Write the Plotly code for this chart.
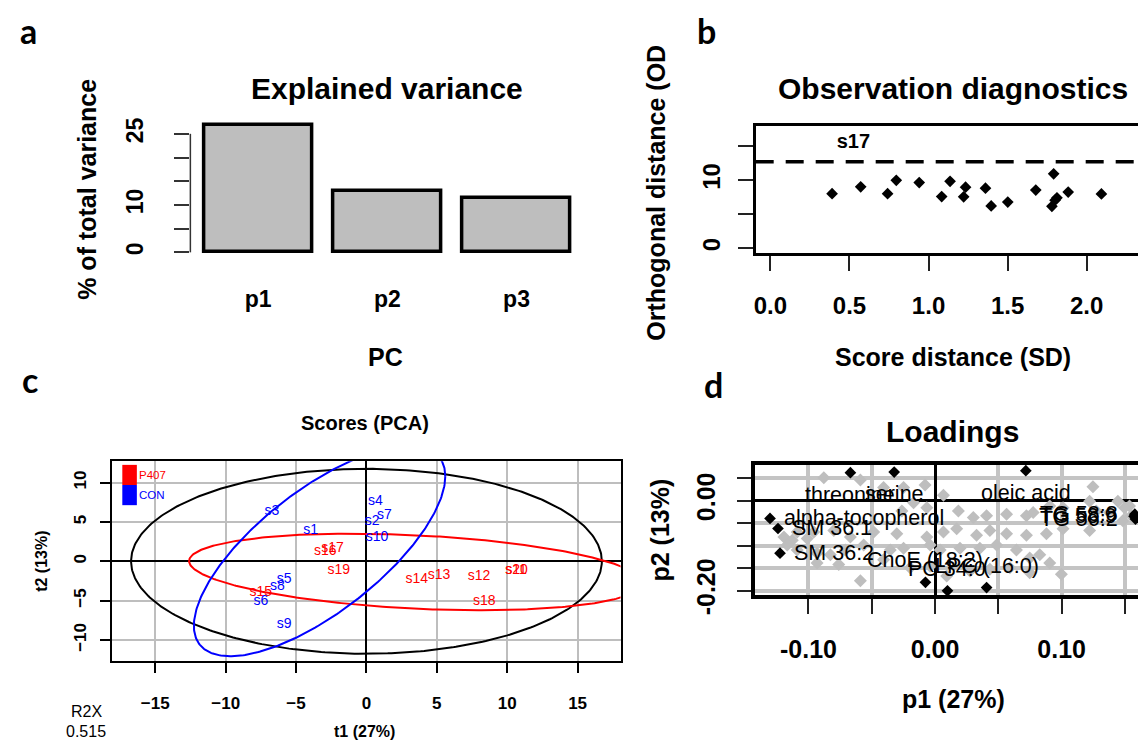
import numpy as np
import plotly.graph_objects as go

W, H = 1146, 755
FONT = "Liberation Sans, Arial, sans-serif"

# ---------------- data ----------------
# (a) explained variance
pc_labels = ["p1", "p2", "p3"]
pc_variance = [26.9, 13.0, 11.4]
bar_positions = [0.7, 1.9, 3.1]
variance_ticks = [0, 5, 10, 15, 20, 25]
variance_ticktext = ["0", "", "10", "", "", "25"]

# (b) observation diagnostics
score_distance = [0.39, 0.571, 0.741, 0.796, 0.941, 1.083, 1.136, 1.234, 1.222, 1.36,
                  1.396, 1.501, 1.678, 1.791, 1.812, 1.80, 1.78, 1.883, 2.093]
orthogonal_distance = [8.0, 9.0, 8.0, 9.96, 9.63, 7.57, 9.81, 8.96, 7.53, 8.81,
                       6.2, 6.77, 8.53, 10.91, 7.39, 7.05, 6.14, 8.24, 7.96]
od_cutoff = 12.7
outlier_names = ["s17"]
outlier_sd = [0.525]
outlier_od = [15.5]
sd_ticks = [0.0, 0.5, 1.0, 1.5, 2.0]
sd_ticktext = ["0.0", "0.5", "1.0", "1.5", "2.0"]
od_ticks = [0, 5, 10, 15]
od_ticktext = ["0", "", "10", ""]

# (c) scores
con_names = ["s1", "s2", "s3", "s4", "s5", "s6", "s7", "s8", "s9", "s10"]
con_t1 = [-3.96, 0.40, -6.72, 0.64, -5.85, -7.5, 1.27, -6.33, -5.85, 0.75]
con_t2 = [3.92, 5.08, 6.39, 7.56, -2.28, -5.08, 5.78, -3.18, -8.05, 2.97]
p407_names = ["s11", "s12", "s13", "s14", "s15", "s16", "s17", "s18", "s19", "s20"]
p407_t1 = [10.62, 8.0, 5.16, 3.58, -7.5, -2.93, -2.41, 8.37, -1.96, 10.66]
p407_t2 = [-1.12, -1.95, -1.86, -2.28, -3.93, 1.24, 1.61, -5.08, -1.16, -1.12]
score_ticks_x = [-15, -10, -5, 0, 5, 10, 15]
score_ticks_y = [-10, -5, 0, 5, 10]
# ellipses: centre, x half-width, y coupling, y half-height
ellipse_groups = ["all", "P407", "CON"]
ellipse_cx = [0.0, 3.5, -3.33]
ellipse_cy = [0.0, -1.36, 1.3]
ellipse_sx = [16.72, 16.1, 8.93]
ellipse_ky = [0.0, -1.385, 9.5]
ellipse_hy = [11.75, 4.67, 9.4]
ellipse_colors = ["black", "#FF0000", "#0000FF"]

# (d) loadings
top_names = ["threonine", "serine", "oleic acid", "alpha-tocopherol", "SM 36:1", "SM 36:2",
             "ChoE (18:2)", "PC 34:0", "LPC (16:0)", "TG 58:8", "TG 58:9", "TG 56:2"]
top_p1 = [-0.0669, -0.0323, 0.0717, -0.1304, -0.1241, -0.1225,
          -0.0076, 0.0098, 0.0407, 0.1578, 0.1572, 0.1583]
top_p2 = [0.0621, 0.0634, 0.0664, -0.0397, -0.0620, -0.1169,
          -0.1818, -0.2006, -0.1934, -0.0303, -0.0350, -0.0411]
top_side = ["below", "below", "below", "right", "right", "right",
            "above", "above", "above", "left", "left", "left"]
other_p1 = [-0.0879, -0.0590, -0.0407, -0.0249, -0.0079, 0.0066, 0.1247, 0.1444, 0.1536,
            -0.0262, -0.0170, -0.0065, 0.0184, 0.0302, 0.0407, 0.0565, 0.0722, 0.0775, 0.0906,
            0.1011, 0.1221, 0.1273, 0.1378, 0.1496, 0.1549,
            -0.1194, -0.1128, -0.1089, -0.1010, -0.0958, -0.0800, -0.0669, -0.0485, -0.0302,
            -0.0065, 0.0066, 0.0171, 0.0328, 0.0433, 0.0565, 0.0722, 0.0880, 0.1011, 0.1221, 0.1483,
            -0.1168, -0.1089, -0.0932, -0.0827, -0.0709, -0.0564, -0.0354, -0.0249, -0.0039,
            0.0040, 0.0197, 0.0354, 0.0486, 0.0643, 0.0748, 0.0827, 0.0906,
            -0.0932, -0.0761, -0.0590, -0.0407, -0.0197, -0.0039, 0.0092, 0.0276, 0.0433,
            0.0591, 0.0748, 0.0998]
other_p2 = [0.0505, 0.0455, 0.0289, 0.0289, 0.0346, 0.0116, 0.0310, -0.0014, -0.0122,
            -0.0230, -0.0050, -0.0158, -0.0230, -0.0375, -0.0339, -0.0303, -0.0339, -0.0267, -0.0122,
            -0.0158, -0.0014, -0.0230, -0.0267, -0.0158, -0.0339,
            -0.0808, -0.0880, -0.0700, -0.0844, -0.0700, -0.0664, -0.0808, -0.0700, -0.0736,
            -0.0808, -0.0700, -0.0627, -0.0772, -0.0664, -0.0736, -0.0772, -0.0736, -0.0627, -0.0664, -0.0447,
            -0.0988, -0.1096, -0.1169, -0.1205, -0.1096, -0.0988, -0.1096, -0.1060, -0.0988,
            -0.1096, -0.1060, -0.1060, -0.0988, -0.1096, -0.1277, -0.1205, -0.1385,
            -0.1385, -0.1421, -0.1782, -0.1313, -0.1493, -0.1457, -0.1674, -0.1565, -0.1529,
            -0.1493, -0.1602, -0.1638]
load_ticks_x = [-0.10, -0.05, 0.0, 0.05, 0.10, 0.15]
load_ticktext_x = ["-0.10", "", "0.00", "", "0.10", ""]
load_ticks_y = [0.05, 0.0, -0.05, -0.10, -0.15, -0.20]
load_ticktext_y = ["", "0.00", "", "", "", "-0.20"]


# ---------------- helpers ----------------
def dom_x(left, right):
    return [left / W, right / W]


def dom_y(top, bottom):
    return [1 - bottom / H, 1 - top / H]


def font(size, bold=True, color="black", family=FONT):
    return dict(family=family, size=size, color=color, weight="bold" if bold else "normal")


def ann(text, x, y, size, bold=True, angle=0, color="black", xanchor="center",
        yanchor="middle", family=FONT):
    return dict(text=text, x=x / W, y=1 - y / H, xref="paper", yref="paper",
                showarrow=False, textangle=angle, font=font(size, bold, color, family),
                xanchor=xanchor, yanchor=yanchor)


fig = go.Figure()

# (a) bars
fig.add_trace(go.Bar(x=bar_positions, y=pc_variance, width=1.0,
                     marker=dict(color="#BEBEBE", line=dict(color="black", width=3.5)),
                     xaxis="x", yaxis="y", hoverinfo="skip", showlegend=False))

# (b) diagnostics
fig.add_trace(go.Scatter(x=score_distance, y=orthogonal_distance, mode="markers",
                         marker=dict(symbol="diamond", size=9, color="black"),
                         xaxis="x2", yaxis="y2", showlegend=False, hoverinfo="skip"))
fig.add_trace(go.Scatter(x=outlier_sd, y=outlier_od, mode="text",
                         text=outlier_names, textposition="middle center",
                         textfont=font(20, True),
                         xaxis="x2", yaxis="y2", showlegend=False, hoverinfo="skip"))

# (c) ellipses
t = np.linspace(0, 2 * np.pi, 400)
for i in range(len(ellipse_groups)):
    ex = ellipse_cx[i] + ellipse_sx[i] * np.cos(t)
    ey = ellipse_cy[i] + ellipse_ky[i] * np.cos(t) + ellipse_hy[i] * np.sin(t)
    fig.add_trace(go.Scatter(x=ex, y=ey, mode="lines",
                             line=dict(color=ellipse_colors[i], width=2),
                             xaxis="x3", yaxis="y3", showlegend=False, hoverinfo="skip"))
fig.add_trace(go.Scatter(x=p407_t1, y=p407_t2, mode="text", text=p407_names,
                         textposition="middle center", textfont=font(14, False, "#FF0000"),
                         xaxis="x3", yaxis="y3", showlegend=False, hoverinfo="skip"))
fig.add_trace(go.Scatter(x=con_t1, y=con_t2, mode="text", text=con_names,
                         textposition="middle center", textfont=font(14, False, "#0000FF"),
                         xaxis="x3", yaxis="y3", showlegend=False, hoverinfo="skip"))

# (d) loadings
fig.add_trace(go.Scatter(x=other_p1, y=other_p2, mode="markers",
                         marker=dict(symbol="diamond", size=10, color="#BEBEBE"),
                         xaxis="x4", yaxis="y4", showlegend=False, hoverinfo="skip"))
fig.add_trace(go.Scatter(x=top_p1, y=top_p2, mode="markers",
                         marker=dict(symbol="diamond", size=9, color="black"),
                         xaxis="x4", yaxis="y4", showlegend=False, hoverinfo="skip"))

annotations = []
offsets = {"below": ("center", "middle", 0, -22), "above": ("center", "middle", 0, 22),
           "right": ("left", "middle", 12, 0), "left": ("right", "middle", -15, 0)}
for name, xv, yv, side in zip(top_names, top_p1, top_p2, top_side):
    xa, ya, xs, ys = offsets[side]
    annotations.append(dict(text=name, x=xv, y=yv, xref="x4", yref="y4", showarrow=False,
                            xanchor=xa, yanchor=ya, xshift=xs, yshift=ys,
                            font=font(21.5, False)))

# titles & labels
annotations += [
    ann("a", 19, 0, 34, family="Lato, sans-serif", yanchor="top"),
    ann("b", 699, 0, 34, family="Lato, sans-serif", yanchor="top"),
    ann("c", 20, 359, 34, family="Lato, sans-serif", yanchor="top"),
    ann("d", 706, 364, 34, family="Lato, sans-serif", yanchor="top"),
    ann("Explained variance", 378, 83, 30),
    ann("% of total variance", 77, 186, 25, angle=-90),
    ann("PC", 377, 358, 25),
    ann("Observation diagnostics", 946, 83, 30),
    ann("Orthogonal distance (OD", 648, 190, 25, angle=-90),
    ann("Score distance (SD)", 946, 358, 25),
    ann("Scores (PCA)", 356, 426, 20),
    ann("t1 (27%)", 356, 743, 16),
    ann("t2 (13%)", 32, 568, 16, angle=-90),
    ann("R2X", 77, 723, 16, bold=False),
    ann("0.515", 76, 743, 16, bold=False),
    ann("P407", 127, 480, 11.5, bold=False, color="#FF0000", xanchor="left"),
    ann("CON", 127, 500.5, 11.5, bold=False, color="#0000FF", xanchor="left"),
    ann("Loadings", 946, 435, 30),
    ann("p1 (27%)", 947, 710, 25),
    ann("p2 (13%)", 652, 536, 25, angle=-90),
]

shapes = [
    # panel a axis line (0 to 25)
    dict(type="line", xref="x domain", yref="y", x0=0, x1=0, y0=0, y1=25,
         line=dict(color="#333333", width=1.5)),
    # panel b cutoff
    dict(type="line", xref="x2 domain", yref="y2", x0=0, x1=1, y0=od_cutoff, y1=od_cutoff,
         line=dict(color="black", width=3.5, dash="18px,12px")),
    # panel c legend boxes
    dict(type="rect", xref="paper", yref="paper", x0=112.7 / W, x1=127.3 / W,
         y0=1 - 490 / H, y1=1 - 469.3 / H, fillcolor="#FF0000", line=dict(width=0)),
    dict(type="rect", xref="paper", yref="paper", x0=112.7 / W, x1=127.3 / W,
         y0=1 - 510.7 / H, y1=1 - 490 / H, fillcolor="#0000FF", line=dict(width=0)),
]

common_off = dict(showgrid=False, zeroline=False)

fig.update_layout(
    width=W, height=H, margin=dict(l=0, r=0, t=0, b=0),
    paper_bgcolor="white", plot_bgcolor="white", showlegend=False,
    font=dict(family=FONT, color="black"),
    bargap=0,
    xaxis=dict(domain=dom_x(181, 577), range=[0.071, 3.736], anchor="y",
               tickvals=bar_positions, ticktext=pc_labels, ticks="", showline=False,
               tickfont=font(23), ticklabelstandoff=22, **common_off),
    yaxis=dict(domain=dom_y(110, 260), range=[-1.85, 28.95], anchor="x",
               tickvals=variance_ticks, ticktext=variance_ticktext, ticks="outside",
               ticklen=15, tickwidth=1.5, tickcolor="#333333", showline=False,
               tickangle=-90, tickfont=font(23), ticklabelstandoff=22, **common_off),
    xaxis2=dict(domain=dom_x(748.3, 1143), range=[-0.093, 2.394], anchor="y2",
                tickvals=sd_ticks, ticktext=sd_ticktext, ticks="outside", ticklen=15,
                tickwidth=2, tickcolor="#222222", showline=True, mirror=True, linewidth=3,
                linecolor="black", tickfont=font(24), ticklabelstandoff=14, **common_off),
    yaxis2=dict(domain=dom_y(121, 251.7), range=[-0.71, 17.96], anchor="x2",
                tickvals=od_ticks, ticktext=od_ticktext, ticks="outside", ticklen=15,
                tickwidth=2, tickcolor="#222222", showline=True, mirror=True, linewidth=3,
                linecolor="black", tickangle=-90, tickfont=font(24), ticklabelstandoff=8,
                **common_off),
    xaxis3=dict(domain=dom_x(102.7, 612.7), range=[-18.05, 18.05], anchor="y3",
                tickvals=score_ticks_x, ticks="outside", ticklen=10, tickwidth=1.5,
                tickcolor="black", showline=True, mirror=True, linewidth=2, linecolor="black",
                showgrid=True, gridcolor="#BEBEBE", gridwidth=2,
                zeroline=True, zerolinecolor="black", zerolinewidth=2,
                tickfont=font(17), ticklabelstandoff=15),
    yaxis3=dict(domain=dom_y(465.7, 671), range=[-12.7, 12.7], anchor="x3",
                tickvals=score_ticks_y, ticks="outside", ticklen=10, tickwidth=1.5,
                tickcolor="black", showline=True, mirror=True, linewidth=2, linecolor="black",
                showgrid=True, gridcolor="#BEBEBE", gridwidth=2,
                zeroline=True, zerolinecolor="black", zerolinewidth=2,
                tickangle=-90, tickfont=font(17), ticklabelstandoff=8),
    xaxis4=dict(domain=dom_x(747.3, 1144), range=[-0.1425, 0.1698], anchor="y4",
                tickvals=load_ticks_x, ticktext=load_ticktext_x, ticks="outside", ticklen=15,
                tickwidth=2, tickcolor="#222222", showline=True, mirror=True, linewidth=3.5,
                linecolor="black", showgrid=True, gridcolor="#C4C4C4", gridwidth=3.5,
                zeroline=True, zerolinecolor="black", zerolinewidth=2.5,
                tickfont=font(25), ticklabelstandoff=14),
    yaxis4=dict(domain=dom_y(469.3, 603.3), range=[-0.2106, 0.0794], anchor="x4",
                tickvals=load_ticks_y, ticktext=load_ticktext_y, ticks="outside", ticklen=14,
                tickwidth=2, tickcolor="#222222", showline=True, mirror=True, linewidth=3.5,
                linecolor="black", showgrid=True, gridcolor="#C4C4C4", gridwidth=3.5,
                zeroline=True, zerolinecolor="black", zerolinewidth=2.5,
                tickangle=-90, tickfont=font(25), ticklabelstandoff=12),
    annotations=annotations,
    shapes=shapes,
)

fig.write_html("out.html")
